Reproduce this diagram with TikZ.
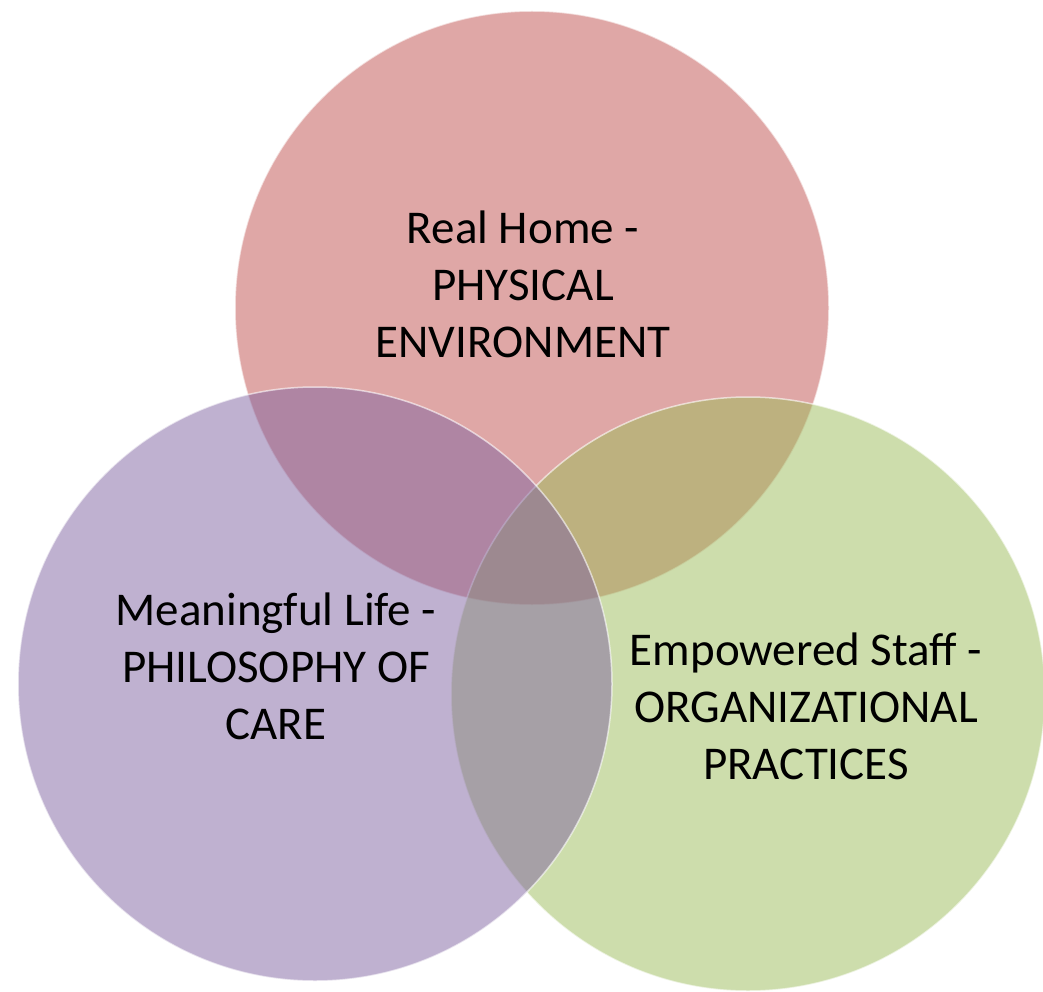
\documentclass[tikz,border=0pt]{standalone}
\usepackage{fontspec}
\setmainfont{Carlito}
\definecolor{cred}{HTML}{C0504D}
\definecolor{cpurple}{HTML}{8064A2}
\definecolor{cgreen}{HTML}{9BBB59}
\begin{document}
\begin{tikzpicture}[x=1pt,y=-1pt,
  venn/.style={circle,minimum size=594pt,inner sep=0pt,fill opacity=0.5,draw opacity=0.6,line width=1.5pt},
  lbl/.style={align=center,inner sep=0pt,text=black,font=\fontsize{47}{57}\selectfont}]
\useasboundingbox (0,0) rectangle (1043,992);
\node[venn,fill=cred,draw=white] (red) at (532,308) {};
\node[venn,fill=cgreen,draw=white] (green) at (748,694) {};
\node[venn,fill=cpurple,draw=white] (purple) at (315,684) {};
\node[lbl] (tred) at (523,284) {Real Home -\\PHYSICAL\\ENVIRONMENT};
\node[lbl] (tpurple) at (276,666) {Meaningful Life -\\PHILOSOPHY OF\\CARE};
\node[lbl] (tgreen) at (806,706) {Empowered Staff -\\ORGANIZATIONAL\\PRACTICES};
\end{tikzpicture}
\end{document}
